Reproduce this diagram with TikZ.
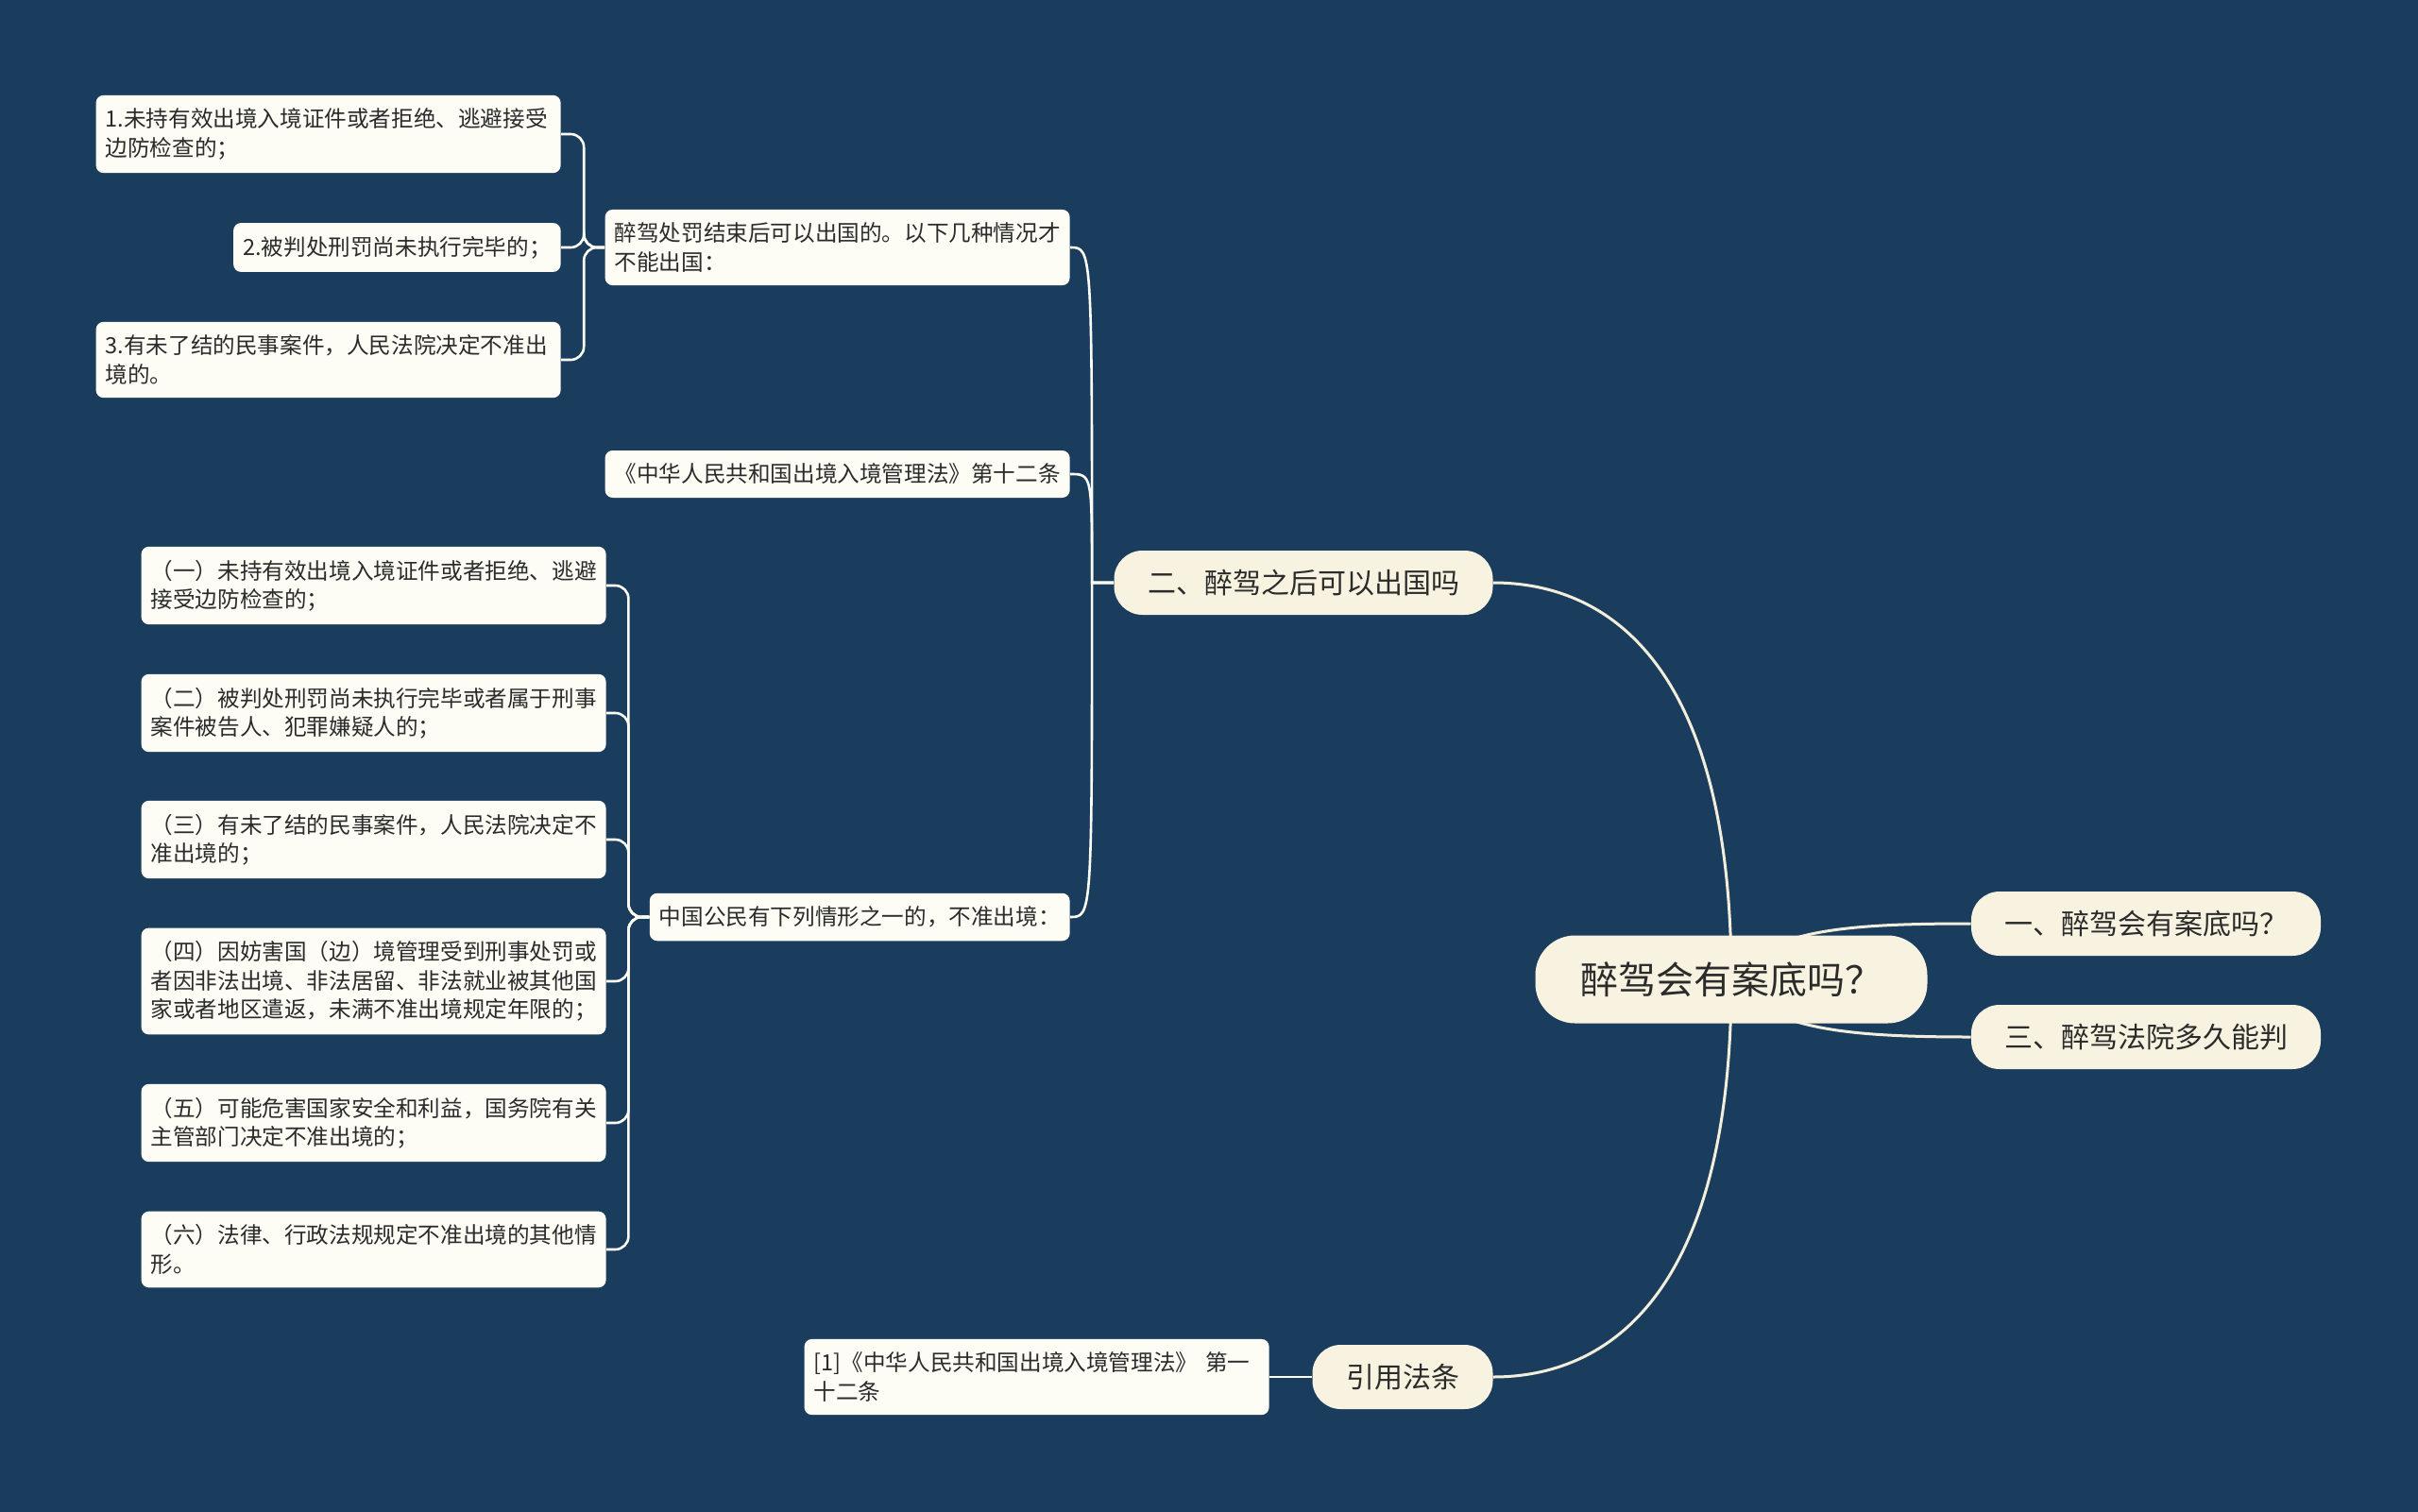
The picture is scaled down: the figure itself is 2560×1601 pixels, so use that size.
\documentclass[tikz,border=0pt]{standalone}
\usepackage{fontspec}
\setmainfont{Noto Sans CJK SC}
\usepackage{tikz}
\usetikzlibrary{positioning,calc}
\definecolor{navy}{HTML}{1A3D5E}
\definecolor{cream}{HTML}{F8F3E1}
\definecolor{paper}{HTML}{FDFDF6}
\definecolor{ink}{HTML}{2B2B2B}
\definecolor{wire}{HTML}{F3EEDB}
\pgfdeclarelayer{bg}
\pgfsetlayers{bg,main}

\tikzset{
  topic/.style={fill=cream, text=ink, rounded corners=15pt, minimum height=34pt,
                inner sep=0pt, font=\fontsize{15}{18}\selectfont},
  leaf/.style={fill=paper, text=ink, rounded corners=4pt, inner xsep=5pt, inner ysep=7pt,
               minimum height=25pt, align=left, font=\fontsize{11.8}{15.2}\selectfont},
  leafwide/.style={leaf, text width=236pt},
  branch/.style={draw=wire, line width=1.5pt},
  twig/.style={draw=paper, line width=1.3pt}
}

\begin{document}
\begin{tikzpicture}[x=0.5pt, y=-0.5pt]

  \node[topic, minimum width=207.5pt, minimum height=46.5pt, rounded corners=21pt,
        font=\fontsize{20}{24}\selectfont] (root) at (1833,1037) {醉驾会有案底吗？};
  \node[topic, minimum width=185pt] (q1) at (2272,978) {一、醉驾会有案底吗？};
  \node[topic, minimum width=185pt] (q3) at (2272,1098) {三、醉驾法院多久能判};
  \node[topic, minimum width=200.5pt] (q2) at (1380,617) {二、醉驾之后可以出国吗};
  \node[topic, minimum width=95.5pt] (cite) at (1485,1458) {引用法条};

  \node[leafwide, anchor=east] (a1) at (1133,262) {醉驾处罚结束后可以出国的。以下几种情况才\\不能出国：};
  \node[leaf, anchor=east] (a2) at (1133,502) {《中华人民共和国出境入境管理法》第十二条};
  \node[leaf, anchor=east] (a3) at (1133,971) {中国公民有下列情形之一的，不准出境：};

  \node[leafwide, anchor=east] (s1) at (594,142) {1.未持有效出境入境证件或者拒绝、逃避接受\\边防检查的；};
  \node[leaf, anchor=east] (s2) at (594,262) {2.被判处刑罚尚未执行完毕的；};
  \node[leafwide, anchor=east] (s3) at (594,381) {3.有未了结的民事案件，人民法院决定不准出\\境的。};

  \node[leafwide, anchor=east] (r1) at (642,620) {（一）未持有效出境入境证件或者拒绝、逃避\\接受边防检查的；};
  \node[leafwide, anchor=east] (r2) at (642,755) {（二）被判处刑罚尚未执行完毕或者属于刑事\\案件被告人、犯罪嫌疑人的；};
  \node[leafwide, anchor=east] (r3) at (642,889) {（三）有未了结的民事案件，人民法院决定不\\准出境的；};
  \node[leafwide, anchor=east] (r4) at (642,1039) {（四）因妨害国（边）境管理受到刑事处罚或\\者因非法出境、非法居留、非法就业被其他国\\家或者地区遣返，未满不准出境规定年限的；};
  \node[leafwide, anchor=east] (r5) at (642,1189) {（五）可能危害国家安全和利益，国务院有关\\主管部门决定不准出境的；};
  \node[leafwide, anchor=east] (r6) at (642,1323) {（六）法律、行政法规规定不准出境的其他情\\形。};

  \node[leafwide, anchor=east] (law) at (1344,1458) {[1]《中华人民共和国出境入境管理法》 第一\\十二条};

  \coordinate (va) at ([xshift=-11pt]a1.west);
  \coordinate (vb) at ([xshift=-11.5pt]q2.west);
  \coordinate (vc) at ([xshift=-11pt]a3.west);

  \begin{pgfonlayer}{bg}
    \fill[navy] (0,0) rectangle (2560,1601);

    \draw[branch] (root.center) .. controls (1833,700) and (1700,617) .. (q2.east);
    \draw[branch] (root.center) .. controls (1833,1374) and (1700,1458) .. (cite.east);
    \draw[branch] (root.center) .. controls (1870,985) and (1950,978) .. (q1.west);
    \draw[branch] (root.center) .. controls (1870,1089) and (1950,1098) .. (q3.west);

    \foreach \n in {a1,a2,a3}
      \draw[twig] (\n.east) .. controls (\n.east -| vb) .. (vb) -- (q2.west);
    \draw[twig] (law.east) -- (cite.west);

    \foreach \n in {s1,s2,s3}
      \draw[twig, rounded corners=7pt] (\n.east) -| (va) -- (a1.west);
    \foreach \n in {r1,r2,r3,r4,r5,r6}
      \draw[twig, rounded corners=7pt] (\n.east) -| (vc) -- (a3.west);
  \end{pgfonlayer}
\end{tikzpicture}
\end{document}
